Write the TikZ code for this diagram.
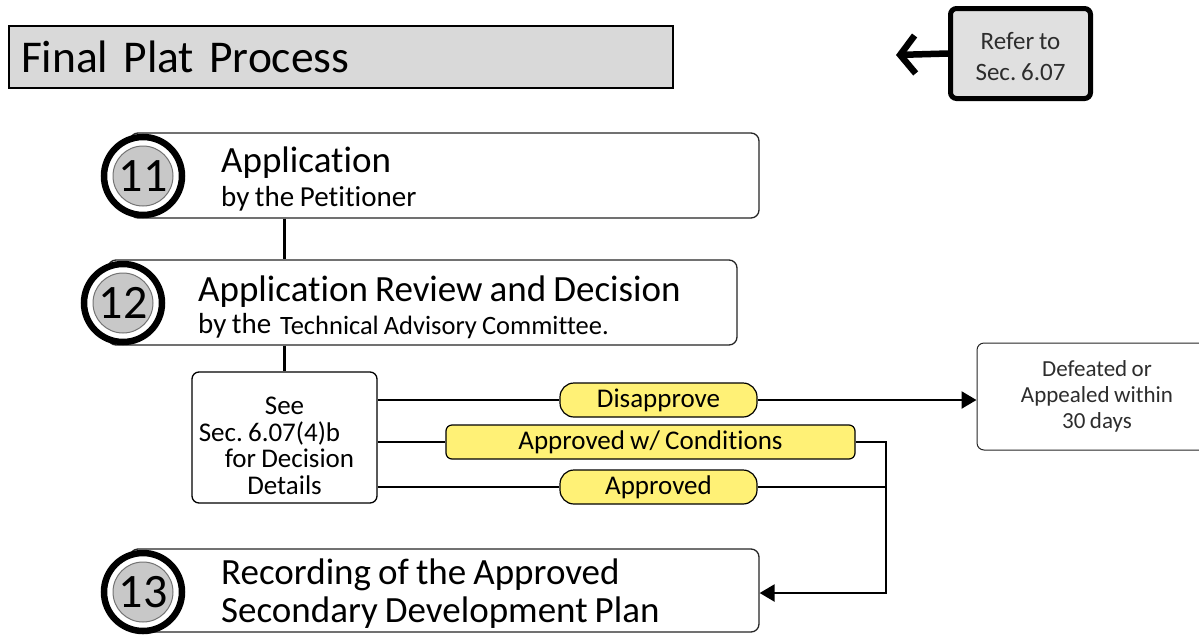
\documentclass[tikz,border=0pt]{standalone}
\usepackage{fontspec}
\setmainfont{Carlito}[Ligatures=NoCommon,WordSpace=0.85]
\frenchspacing
\usetikzlibrary{arrows.meta}
\definecolor{titlegray}{RGB}{217,217,217}
\definecolor{refgray}{RGB}{224,224,224}
\definecolor{badgegray}{RGB}{200,200,200}
\definecolor{pillyellow}{RGB}{255,241,118}
\definecolor{textgray}{RGB}{45,45,45}

\begin{document}
\begin{tikzpicture}[x=1pt,y=-1pt]
	\tikzstyle{every node}+=[inner sep=0pt]
	\tikzstyle{stepbox}=[draw=black!85,line width=1.3pt,rounded corners=8pt,fill=white,minimum width=629pt,minimum height=85pt]
	\tikzstyle{ring}=[circle,draw=black,line width=6.5pt,fill=white,minimum size=78pt]
	\tikzstyle{badge}=[circle,draw=black!55,line width=1pt,fill=badgegray,minimum size=60pt,font=\fontsize{48}{48}\selectfont]
	\tikzstyle{pill}=[draw=black,line width=1.2pt,rounded corners=14pt,fill=pillyellow,minimum height=34pt,font=\fontsize{27}{27}\selectfont]
	\tikzstyle{big}=[anchor=base west,font=\fontsize{37}{37}\selectfont]
	\tikzstyle{small}=[anchor=base west,font=\fontsize{29}{29}\selectfont]
	\tikzstyle{conn}=[line width=2.5pt]
	\tikzstyle{tip}=[-{Triangle[length=15pt,width=17pt]}]
	\useasboundingbox (0,0) rectangle (1199,635);
	% title and reference
	\node[draw=black,line width=2pt,fill=titlegray,minimum width=664pt,minimum height=62pt,anchor=north west,text width=640pt,align=left,font=\fontsize{45.5}{46}\selectfont] (title) at (8,25) {Final Plat Process};
	\node[draw=black,line width=5pt,rounded corners=6pt,fill=refgray,minimum width=140pt,minimum height=90pt,align=center,font=\fontsize{25}{31}\selectfont,text=textgray] (refer) at (1020.5,53.5) {\rule{0pt}{24pt}Refer to\\Sec. 6.07};
	\coordinate (referend) at (896,55);
	\draw[line width=6.5pt,-{Straight Barb[length=15pt,width=38pt]}] (refer.west) -- (referend);
	% step 11
	\node[stepbox] (step11) at (444.5,175.5) {};
	\node[ring] (ring11) at (143,176) {};
	\node[badge] (num11) at (ring11) {11};
	\node[big] (app11) at (221,172) {Application};
	\node[small] (by11) at (221,206) {by the Petitioner};
	% step 12
	\node[stepbox] (step12) at (422.5,302.5) {};
	\node[ring] (ring12) at (123,303) {};
	\node[badge] (num12) at (ring12) {12};
	\node[big] (app12) at (198,301) {Application Review and Decision};
	\node[small] (by12) at (198,333) {by the};
	\node[anchor=base west,font=\fontsize{26.5}{26.5}\selectfont] (tac12) at (280,334) {Technical Advisory Committee.};
	% decision
	\node[draw=black,line width=1.3pt,rounded corners=7pt,fill=white,minimum width=185pt,minimum height=131pt,align=center,font=\fontsize{27}{26.5}\selectfont] (dec) at (284.5,437.5) {\rule{0pt}{34pt}See\\Sec. 6.07(4)b\hspace{30pt}\mbox{}\\\hspace{10pt}for Decision\\Details};
	\node[pill,minimum width=197pt] (disap) at (658.5,400) {Disapprove};
	\node[pill,rounded corners=6pt,minimum width=409pt] (cond) at (650.5,442) {Approved w/ Conditions};
	\node[pill,minimum width=197pt] (appr) at (658.5,487) {Approved};
	\node[draw=black!85,line width=1pt,rounded corners=7pt,fill=white,minimum width=240pt,minimum height=107pt,align=center,font=\fontsize{23}{26}\selectfont,text=textgray] (defeat) at (1097,396.5) {Defeated or\\Appealed within\\30 days};
	% step 13
	\node[stepbox,minimum height=83pt] (step13) at (444.5,590.5) {};
	\node[ring] (ring13) at (143,592) {};
	\node[badge] (num13) at (ring13) {13};
	\node[big] (rec13) at (221,584) {Recording of the Approved};
	\node[big] (plan13) at (221,622) {Secondary Development Plan};
	% connectors
	\coordinate (joint) at (886,593);
	\draw[conn] (dec.north |- step11.south) -- (dec.north |- step12.north);
	\draw[conn] (dec.north |- step12.south) -- (dec.north);
	\draw[conn] (dec.east |- disap) -- (disap.west);
	\draw[conn,tip] (disap.east) -- (defeat.west |- disap);
	\draw[conn] (dec.east |- cond) -- (cond.west);
	\draw[conn,tip] (cond.east) -| (joint) -- (step13.east |- joint);
	\draw[conn] (dec.east |- appr) -- (appr.west);
	\draw[conn] (appr.east) -- (appr.east -| joint);
\end{tikzpicture}
\end{document}
